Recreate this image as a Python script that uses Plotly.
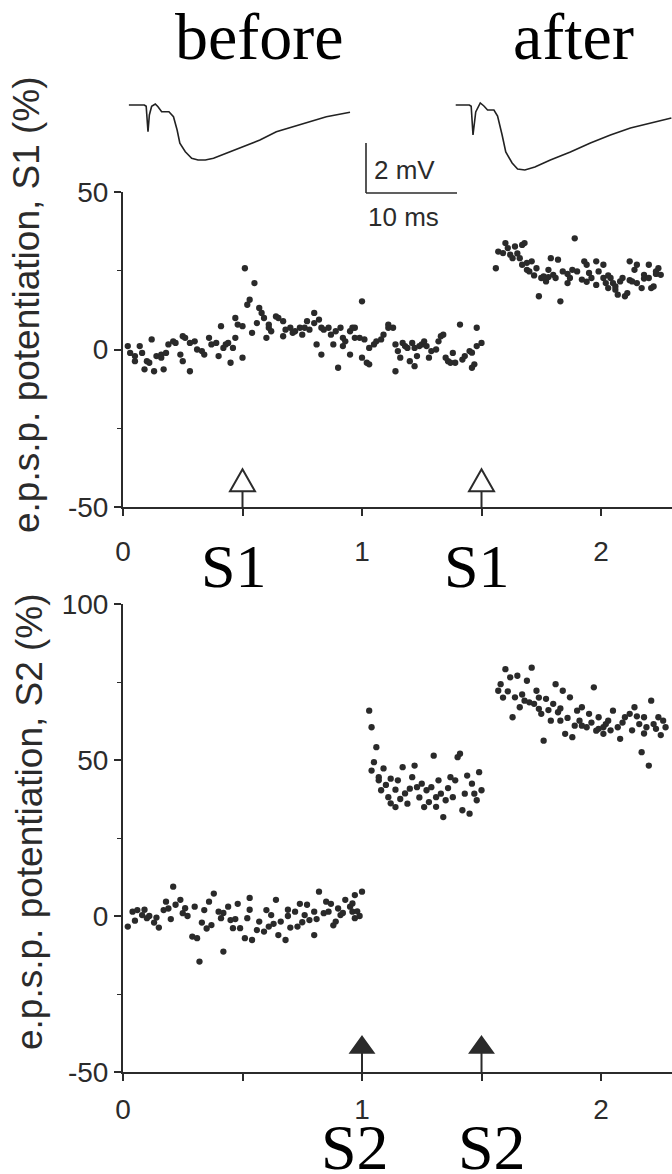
import plotly.graph_objects as go

W, H = 672, 1174

# ---------------- S1 pathway: time (h) vs e.p.s.p. potentiation (%) ----------------
s1_before_t = [0.02, 0.03, 0.05, 0.05, 0.07, 0.08, 0.09, 0.10, 0.11, 0.12, 0.13, 0.14, 0.16, 0.16,
               0.17, 0.18, 0.19, 0.21, 0.22, 0.24, 0.25, 0.25, 0.26, 0.28, 0.28, 0.30, 0.31, 0.33,
               0.34, 0.36, 0.37, 0.39, 0.40, 0.41, 0.42, 0.43, 0.44, 0.45, 0.46, 0.47, 0.47, 0.48,
               0.50, 0.50, 0.51, 0.52, 0.53, 0.54, 0.55, 0.56, 0.57, 0.58, 0.59, 0.60, 0.61, 0.61,
               0.62, 0.64, 0.65, 0.67, 0.67, 0.68, 0.70, 0.71, 0.72, 0.74, 0.75, 0.76, 0.77, 0.78,
               0.80, 0.80, 0.81, 0.82, 0.83, 0.83, 0.84, 0.86, 0.87, 0.88, 0.89, 0.90, 0.91, 0.92,
               0.92, 0.93, 0.95, 0.95, 0.96, 0.97, 0.97, 0.99, 1.00, 1.00, 1.01, 1.02, 1.03, 1.03,
               1.05, 1.06, 1.08, 1.09, 1.11, 1.11, 1.13, 1.14, 1.14, 1.15, 1.16, 1.17, 1.18, 1.19,
               1.20, 1.21, 1.22, 1.22, 1.23, 1.24, 1.25, 1.26, 1.27, 1.28, 1.29, 1.31, 1.32, 1.33,
               1.34, 1.35, 1.36, 1.37, 1.38, 1.39, 1.41, 1.42, 1.43, 1.45, 1.46, 1.46, 1.47, 1.48,
               1.48, 1.50]
s1_before_v = [1.1, -1.1, -2.1, -3.7, 1.1, -1.1, -6.3, -3.7, -4.2, 3.2, -6.9, -2.1, -1.6, -2.6,
               -6.3, -1.1, 1.6, 2.6, 2.1, -1.6, 4.2, -3.7, 3.7, -6.9, 2.1, 2.6, 0.0, -0.5,
               -1.6, 3.7, 1.6, 2.1, -2.1, 7.4, 0.5, 1.6, 2.1, -4.2, 0.5, 3.7, 10.0, 7.9,
               -2.6, 7.4, 25.8, 14.2, 15.8, 5.3, 21.1, 8.4, 13.2, 11.6, 10.0, 3.7, 6.9, 7.9,
               5.8, 10.5, 10.0, 9.0, 4.2, 6.3, 6.9, 5.3, 5.8, 6.9, 4.7, 6.9, 9.0, 6.3,
               8.4, 11.6, 1.6, 9.5, 6.9, -1.6, 6.3, 6.9, 4.7, 1.6, 5.8, -5.8, 6.9, 3.7,
               1.1, 2.6, 5.8, -1.6, 6.9, 6.9, 3.7, 3.7, -2.6, 15.3, 3.2, -4.2, -4.7, 0.5,
               1.6, 2.6, 3.2, 4.7, 7.9, 6.9, 6.9, 1.6, -6.9, -0.5, -2.6, 2.1, 1.1, 0.5,
               -3.7, 2.1, -5.3, 0.5, -2.1, 1.1, 1.6, 2.6, 1.1, -2.6, -0.5, 0.0, 2.6, 4.2,
               4.7, -2.6, -3.7, -4.2, -1.1, -4.2, 7.9, -3.2, -2.1, -0.5, -1.0, -5.8, -4.7, 1.1,
               6.9, 2.1]

s1_after_t = [1.56, 1.57, 1.59, 1.60, 1.61, 1.62, 1.63, 1.64, 1.65, 1.66, 1.67, 1.67, 1.68, 1.69,
              1.69, 1.70, 1.71, 1.72, 1.73, 1.74, 1.75, 1.76, 1.77, 1.78, 1.78, 1.79, 1.80, 1.81,
              1.82, 1.83, 1.84, 1.86, 1.86, 1.87, 1.88, 1.89, 1.90, 1.92, 1.93, 1.94, 1.94, 1.95,
              1.96, 1.98, 1.98, 1.99, 2.01, 2.01, 2.02, 2.03, 2.03, 2.04, 2.05, 2.06, 2.06, 2.07,
              2.08, 2.09, 2.10, 2.11, 2.12, 2.12, 2.13, 2.14, 2.15, 2.15, 2.17, 2.18, 2.18, 2.20,
              2.20, 2.21, 2.22, 2.23, 2.23, 2.24, 2.25]
s1_after_v = [25.8, 31.1, 30.6, 33.8, 32.2, 30.1, 29.0, 32.7, 30.5, 29.0, 33.2, 26.9, 33.8, 25.3,
              27.5, 24.8, 28.0, 23.5, 25.8, 16.9, 22.7, 23.2, 21.6, 25.3, 23.0, 29.0, 23.7, 22.7,
              28.5, 15.3, 24.8, 21.1, 24.0, 22.7, 25.3, 35.3, 24.8, 22.2, 28.0, 26.9, 21.5, 24.3,
              22.7, 28.0, 20.5, 24.8, 26.9, 22.7, 21.1, 19.5, 23.5, 22.7, 21.1, 19.0, 20.0, 17.4,
              21.6, 22.7, 16.9, 17.9, 28.0, 22.0, 21.6, 25.3, 26.9, 21.1, 19.5, 23.7, 22.5, 22.7,
              26.9, 19.5, 20.0, 24.0, 24.8, 25.8, 23.7]

# ---------------- S2 pathway ----------------
s2_before_t = [0.02, 0.04, 0.05, 0.06, 0.08, 0.09, 0.10, 0.11, 0.13, 0.14, 0.15, 0.17, 0.18, 0.19,
               0.20, 0.21, 0.22, 0.24, 0.25, 0.26, 0.27, 0.29, 0.30, 0.31, 0.32, 0.33, 0.34, 0.35,
               0.36, 0.37, 0.38, 0.40, 0.41, 0.42, 0.42, 0.44, 0.45, 0.46, 0.47, 0.48, 0.49, 0.51,
               0.52, 0.53, 0.53, 0.54, 0.56, 0.57, 0.59, 0.60, 0.61, 0.62, 0.63, 0.64, 0.65, 0.66,
               0.68, 0.69, 0.69, 0.70, 0.72, 0.73, 0.74, 0.75, 0.76, 0.77, 0.78, 0.80, 0.80, 0.81,
               0.82, 0.84, 0.85, 0.86, 0.87, 0.88, 0.89, 0.90, 0.91, 0.92, 0.93, 0.95, 0.96, 0.96,
               0.97, 0.97, 0.98, 0.99, 1.00]
s2_before_v = [-3.4, 1.4, -1.5, 1.9, 0.3, 2.0, -0.7, 0.0, -2.1, -0.5, -3.7, 1.9, 4.6, 2.4,
               -1.0, 9.4, 3.6, 5.2, 0.9, 2.5, 0.0, -6.6, 3.0, -7.1, -14.6, -2.1, 1.9, -4.0,
               4.6, -2.9, 7.2, 1.4, -0.7, 1.0, -11.4, 3.0, -1.3, -3.9, -1.0, 3.9, -3.9, -7.1,
               -0.7, 5.8, 2.0, -7.7, -4.5, -1.8, -5.0, 1.9, -3.4, 0.3, -2.5, 5.2, -6.1, -1.8,
               -7.7, 0.0, 2.0, -3.7, 1.4, -3.4, 3.9, -2.0, 0.3, 3.6, -1.3, -6.1, 1.4, -1.0,
               7.8, 0.9, 4.6, 1.4, 3.9, -3.0, -1.8, 2.4, 0.3, 1.0, 5.2, 3.0, 1.4, 4.0,
               -0.7, 6.7, 1.5, 0.0, 7.8]

s2_mid_t = [1.03, 1.04, 1.04, 1.05, 1.06, 1.07, 1.07, 1.08, 1.09, 1.10, 1.11, 1.12, 1.12, 1.14,
            1.14, 1.15, 1.16, 1.17, 1.18, 1.19, 1.20, 1.21, 1.22, 1.23, 1.24, 1.25, 1.26, 1.27,
            1.28, 1.29, 1.30, 1.31, 1.31, 1.32, 1.33, 1.34, 1.35, 1.36, 1.37, 1.38, 1.39, 1.40,
            1.41, 1.42, 1.43, 1.44, 1.45, 1.46, 1.47, 1.48, 1.49, 1.50]
s2_mid_v = [65.8, 46.6, 60.5, 49.3, 54.1, 43.5, 44.5, 40.3, 47.3, 42.0, 38.1, 36.1, 44.0, 34.9,
            40.5, 43.5, 37.5, 47.7, 39.3, 36.0, 40.8, 44.5, 48.2, 41.3, 38.0, 42.4, 34.9, 40.3,
            36.5, 41.3, 51.4, 38.1, 35.0, 43.5, 39.2, 31.7, 37.1, 41.0, 44.5, 38.1, 43.5, 50.9,
            52.0, 33.9, 39.2, 45.0, 32.8, 42.4, 39.2, 37.1, 46.1, 40.3]

s2_after_t = [1.57, 1.58, 1.59, 1.60, 1.61, 1.62, 1.63, 1.64, 1.65, 1.66, 1.67, 1.68, 1.69, 1.70,
              1.71, 1.72, 1.73, 1.74, 1.74, 1.75, 1.76, 1.77, 1.78, 1.79, 1.80, 1.81, 1.82, 1.83,
              1.83, 1.84, 1.85, 1.86, 1.87, 1.88, 1.89, 1.90, 1.91, 1.92, 1.92, 1.94, 1.95, 1.96,
              1.97, 1.98, 1.99, 1.99, 2.01, 2.01, 2.02, 2.03, 2.04, 2.05, 2.07, 2.08, 2.09, 2.10,
              2.12, 2.13, 2.14, 2.15, 2.16, 2.17, 2.18, 2.18, 2.19, 2.20, 2.21, 2.22, 2.23, 2.24,
              2.25, 2.26, 2.27]
s2_after_v = [72.2, 74.3, 70.0, 79.1, 72.0, 76.5, 63.7, 70.1, 77.0, 66.9, 71.0, 69.0, 75.4, 68.5,
              79.6, 68.0, 72.2, 66.4, 70.0, 64.8, 56.2, 69.6, 66.0, 62.6, 68.0, 74.3, 65.3, 62.6,
              66.5, 72.2, 58.4, 63.5, 70.1, 57.3, 61.0, 65.8, 62.6, 66.9, 61.0, 60.5, 64.8, 62.0,
              73.3, 59.4, 63.7, 60.0, 60.5, 58.4, 61.5, 62.6, 59.5, 65.8, 60.5, 56.8, 62.0, 63.7,
              64.8, 59.5, 66.9, 64.0, 61.5, 52.5, 63.7, 58.5, 60.5, 48.2, 69.0, 61.5, 60.0, 63.7,
              58.0, 62.6, 60.5]

# stimulus times (h)
s1_stim = [0.5, 1.5]
s2_stim = [1.0, 1.5]

# tick labels
x_ticks = [0, 1, 2]
s1_y_ticks = [-50, 0, 50]
s2_y_ticks = [-50, 0, 50, 100]

# sample e.p.s.p. sweeps: time (ms) vs potential (mV)
sweep_before_t = [-2.1, -0.4, -0.2, 0.0, 0.15, 0.4, 0.8, 1.1, 1.5, 1.9, 2.3, 2.8, 3.2, 3.5, 4.1,
                  4.8, 5.5, 6.3, 7.2, 8.6, 10.5, 12.3, 14.1, 16.0, 17.8, 19.6, 22.2]
sweep_before_v = [0.0, 0.0, -0.05, -1.07, -0.4, -0.05, 0.04, -0.07, -0.27, -0.27, -0.27, -0.47,
                  -1.0, -1.53, -1.87, -2.13, -2.2, -2.2, -2.13, -1.93, -1.67, -1.4, -1.07, -0.87,
                  -0.67, -0.47, -0.29]
sweep_after_t = [-1.9, -0.4, -0.2, 0.0, 0.3, 0.8, 1.2, 1.6, 2.3, 2.7, 3.2, 3.6, 4.3, 4.9, 5.7,
                 6.8, 8.5, 10.7, 12.9, 15.1, 17.3, 19.5, 21.8]
sweep_after_v = [0.0, 0.0, -0.05, -1.2, -0.28, 0.08, -0.04, -0.2, -0.2, -0.44, -1.2, -1.88,
                 -2.32, -2.56, -2.6, -2.48, -2.2, -1.88, -1.52, -1.2, -0.92, -0.72, -0.52]

# scale bar sizes
bar_ms = 10
bar_mv = 2


def px_x(px):
    return px / W


def px_y(py):
    return 1 - py / H


INK = "#2b2b2b"
DOT = "#2a2a2a"
SANS = "Liberation Sans, Arial, sans-serif"
SERIF = "Liberation Serif, Times New Roman, serif"

fig = go.Figure()

dot_style = dict(mode="markers", marker=dict(size=6.3, color=DOT, line=dict(width=0)),
                 hoverinfo="skip", showlegend=False)

fig.add_trace(go.Scatter(x=s1_before_t + s1_after_t, y=s1_before_v + s1_after_v,
                         xaxis="x", yaxis="y", **dot_style))
fig.add_trace(go.Scatter(x=s2_before_t + s2_mid_t + s2_after_t,
                         y=s2_before_v + s2_mid_v + s2_after_v,
                         xaxis="x2", yaxis="y2", **dot_style))

sweep_style = dict(mode="lines", line=dict(color="#222222", width=1.6),
                   hoverinfo="skip", showlegend=False)
fig.add_trace(go.Scatter(x=sweep_before_t, y=sweep_before_v, xaxis="x3", yaxis="y3", **sweep_style))
fig.add_trace(go.Scatter(x=sweep_after_t, y=sweep_after_v, xaxis="x4", yaxis="y4", **sweep_style))

# axis geometry
plot_x0 = px_x(123)
x_range = [0, 2.297]
tick_font = dict(family=SANS, size=28, color=INK)

common_x = dict(range=x_range, domain=[plot_x0, 1.0], showline=True, linecolor=INK, linewidth=2,
                ticks="outside", ticklen=7, tickwidth=1.6, tickcolor=INK,
                tickvals=x_ticks, ticktext=[str(v) for v in x_ticks], tickfont=tick_font,
                minor=dict(tickvals=[0.5, 1.5], ticks="outside", ticklen=7, tickwidth=1.6,
                           tickcolor=INK),
                showgrid=False, zeroline=False, fixedrange=True, automargin=False)
common_y = dict(showline=True, linecolor=INK, linewidth=2, ticks="outside", ticklen=7,
                tickwidth=1.6, tickcolor=INK, tickfont=tick_font, showgrid=False,
                zeroline=False, fixedrange=True, ticklabelstandoff=0, automargin=False)

layout = dict(
    template="none",
    width=W, height=H, autosize=False,
    margin=dict(l=0, r=0, t=0, b=0, pad=0),
    paper_bgcolor="white", plot_bgcolor="rgba(0,0,0,0)",
    showlegend=False,
    xaxis=dict(anchor="y", ticklabelstandoff=11, **common_x),
    yaxis=dict(anchor="x", domain=[px_y(507), px_y(192)], range=[-50, 50],
               tickvals=s1_y_ticks, ticktext=[str(v) for v in s1_y_ticks],
               minor=dict(tickvals=[-25, 25], ticks="outside", ticklen=4, tickwidth=1.4,
                          tickcolor=INK),
               **common_y),
    xaxis2=dict(anchor="y2", ticklabelstandoff=4, **common_x),
    yaxis2=dict(anchor="x2", domain=[px_y(1072), px_y(604)], range=[-50, 100],
                tickvals=s2_y_ticks, ticktext=[str(v) for v in s2_y_ticks],
                minor=dict(tickvals=[-25, 25, 75], ticks="outside", ticklen=4, tickwidth=1.4,
                           tickcolor=INK),
                **common_y),
)

# sweep insets (25 px per mV, 9.1 px per ms)
inset_y_dom = [px_y(182), px_y(92)]
inset_y_rng = [-(182 - 105) / 25, (105 - 92) / 25]
b_x0, b_x1, b_t0 = 120, 362, 148
a_x0, a_x1, a_t0 = 450, 672, 473
ms_px = 9.1
hidden = dict(visible=False, fixedrange=True, automargin=False)
layout["xaxis3"] = dict(domain=[px_x(b_x0), px_x(b_x1)],
                        range=[(b_x0 - b_t0) / ms_px, (b_x1 - b_t0) / ms_px],
                        anchor="y3", **hidden)
layout["yaxis3"] = dict(domain=inset_y_dom, range=inset_y_rng, anchor="x3", **hidden)
layout["xaxis4"] = dict(domain=[px_x(a_x0), px_x(a_x1)],
                        range=[(a_x0 - a_t0) / ms_px, (a_x1 - a_t0) / ms_px],
                        anchor="y4", **hidden)
layout["yaxis4"] = dict(domain=inset_y_dom, range=inset_y_rng, anchor="x4", **hidden)
fig.update_layout(**layout)

shapes = []

# stimulus arrows: open triangles for S1, filled for S2
x_per_px = (x_range[1] - x_range[0]) / (W - 123)
for xs, yref, xref, tip, base, half_px, filled in [
        (s1_stim, "y", "x", -38.0, -45.0, 12.5, False),
        (s2_stim, "y2", "x2", -38.7, -43.8, 11.5, True)]:
    for t in xs:
        hw = half_px * x_per_px
        shapes.append(dict(type="line", xref=xref, yref=yref, x0=t, x1=t, y0=-50, y1=base,
                           line=dict(color=INK, width=2)))
        shapes.append(dict(type="path", xref=xref, yref=yref,
                           path=f"M {t} {tip} L {t + hw} {base} L {t - hw} {base} Z",
                           line=dict(color=INK, width=2),
                           fillcolor=INK if filled else "white"))

# scale bar (2 mV / 10 ms)
sb_x, sb_y = 366, 193
shapes.append(dict(type="line", xref="paper", yref="paper",
                   x0=px_x(sb_x), x1=px_x(sb_x), y0=px_y(sb_y), y1=px_y(sb_y - bar_mv * 25),
                   line=dict(color=INK, width=1.6)))
shapes.append(dict(type="line", xref="paper", yref="paper",
                   x0=px_x(sb_x), x1=px_x(sb_x + bar_ms * ms_px), y0=px_y(sb_y), y1=px_y(sb_y),
                   line=dict(color=INK, width=1.6)))
fig.update_layout(shapes=shapes)

ann = []


def text(s, x, y, size, family, color="black", angle=0, xanchor="center"):
    ann.append(dict(text=s, x=px_x(x), y=px_y(y), xref="paper", yref="paper",
                    showarrow=False, textangle=angle, xanchor=xanchor, yanchor="middle",
                    font=dict(size=size, family=family, color=color)))


text("before", 259, 37, 66, SERIF)
text("after", 573, 37, 66, SERIF)
text(f"{bar_mv} mV", 372, 170, 26, SANS, INK, xanchor="left")
text(f"{bar_ms} ms", 366, 217, 26, SANS, INK, xanchor="left")
text("e.p.s.p. potentiation, S1 (%)", 27, 305, 37, SANS, INK, angle=-90)
text("e.p.s.p. potentiation, S2 (%)", 29, 822, 37, SANS, INK, angle=-90)
text("S1", 233, 566, 62, SERIF)
text("S1", 476, 566, 62, SERIF)
text("S2", 355, 1147, 64, SERIF)
text("S2", 492, 1147, 64, SERIF)
fig.update_layout(annotations=ann)

fig.write_html("out.html")
